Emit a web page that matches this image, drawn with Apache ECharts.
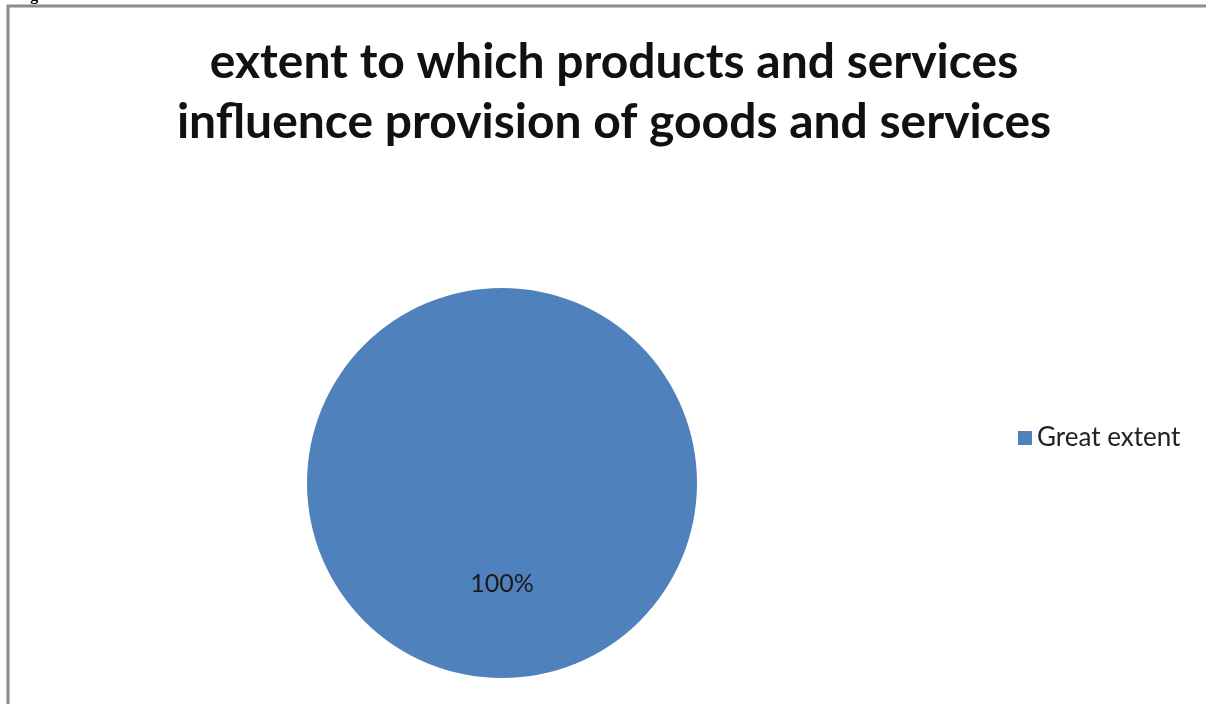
<!DOCTYPE html>
<html>
<head>
<meta charset="utf-8">
<script src="https://cdn.jsdelivr.net/npm/echarts@6/dist/echarts.min.js"></script>
<style>
  html, body { margin: 0; padding: 0; background: #fff; }
  #chart { width: 1206px; height: 704px; }
</style>
</head>
<body>
<div id="chart"></div>
<script>
// Survey responses: share of respondents per answer
const categories = ['Great extent'];
const shares = [100];
const titleLines = ['extent to which products and services', 'influence provision of goods and services'];
const caption = 'Figure 4.7:';

const chart = echarts.init(document.getElementById('chart'), null, { renderer: 'canvas' });

const FONT = 'Lato, "Open Sans", sans-serif';

chart.setOption({
  backgroundColor: '#ffffff',
  animation: false,
  title: {
    text: titleLines.join('\n'),
    left: 609,
    textAlign: 'center',
    top: 28,
    textStyle: {
      fontFamily: FONT,
      fontWeight: 'bold',
      fontSize: 48,
      lineHeight: 60,
      color: '#111111'
    }
  },
  legend: {
    data: categories,
    orient: 'vertical',
    left: 1013,
    top: 420,
    icon: 'rect',
    itemWidth: 14,
    itemHeight: 14,
    itemGap: 8,
    textStyle: {
      fontFamily: FONT,
      fontSize: 26,
      color: '#222222'
    }
  },
  graphic: [
    {
      type: 'polyline',
      shape: { points: [[8, 704], [8, 6], [1206, 6]] },
      style: { stroke: '#8c8c8c', lineWidth: 3, fill: null },
      silent: true
    },
    {
      type: 'text',
      left: 16,
      top: -12,
      style: {
        text: caption,
        font: 'bold 16px "Liberation Serif", serif',
        fill: '#000000'
      },
      silent: true
    }
  ],
  series: [
    {
      type: 'pie',
      center: [502, 483],
      radius: 195,
      startAngle: 90,
      clockwise: true,
      data: categories.map((name, i) => ({ name, value: shares[i] })),
      itemStyle: { color: '#4f81bd' },
      label: {
        show: true,
        position: 'inside',
        formatter: p => p.value + '%',
        fontFamily: FONT,
        fontSize: 25,
        color: '#1a1a1a'
      },
      labelLine: { show: false },
      emphasis: { disabled: true }
    }
  ]
});
</script>
</body>
</html>
